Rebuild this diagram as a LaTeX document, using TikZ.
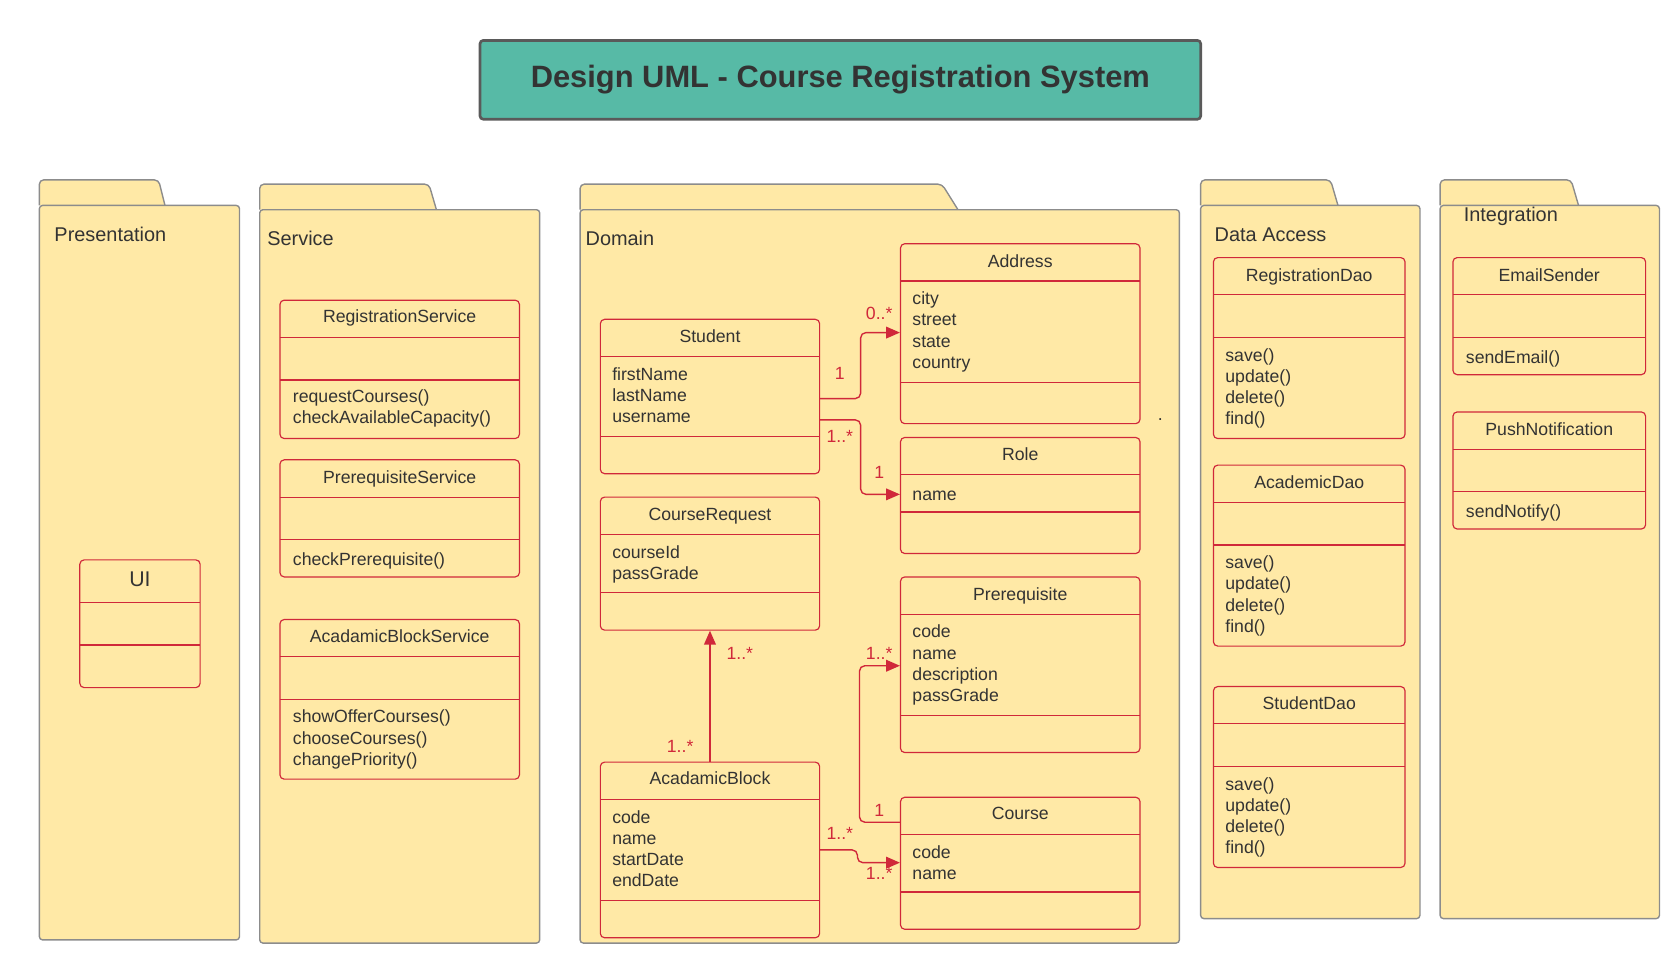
\documentclass[tikz,border=0pt]{standalone}
\usepackage{fontspec}
\setmainfont{Liberation Sans}
\usetikzlibrary{arrows.meta,fit,calc}
\definecolor{folderfill}{HTML}{FFE9A6}
\definecolor{foldline}{HTML}{8C8C8C}
\definecolor{umlred}{HTML}{D0283A}
\definecolor{txt}{HTML}{333333}
\definecolor{titlefill}{HTML}{57BAA6}
\definecolor{titleline}{HTML}{5A5A5A}
\tikzset{
 folderbody/.style={draw=foldline, fill=folderfill, line width=1.3pt, rounded corners=3pt, inner sep=0pt},
 foldertab/.style={draw=foldline, fill=folderfill, line width=1.3pt, rounded corners=4pt},
 foldlabel/.style={font=\fontsize{18.7}{22}\selectfont, text=txt, anchor=base west, inner sep=0pt},
 classbox/.style={draw=umlred, fill=folderfill, line width=1.1pt, rounded corners=4pt, inner sep=0pt},
 divider/.style={draw=umlred, line width=1.1pt},
 ctitle/.style={font=\fontsize{16.6}{20}\selectfont, text=txt, anchor=base, inner sep=0pt},
 members/.style={font=\fontsize{16.6}{20}\selectfont, text=txt, anchor=north west, inner sep=0pt, align=left, execute at begin node=\strut},
 mult/.style={font=\fontsize{16.6}{20}\selectfont, text=umlred, inner sep=0pt},
 conn/.style={draw=umlred, line width=1.3pt, rounded corners=5pt, -{Triangle[length=13pt,width=11pt]}},
 titlebox/.style={draw=titleline, fill=titlefill, line width=2.5pt, rounded corners=3pt, minimum width=677pt, minimum height=74pt, font=\fontsize{29}{34}\selectfont\bfseries, text=txt},
}
% name, x1, ytab, xtabtop, xtabbottom, ybody, x2, ybottom
\newcommand{\umlfolder}[8]{%
  \draw[foldertab] (#2,#6) -- (#2,#3) -- (#4,#3) -- (#5,#6);
  \node[folderbody, fit={(#2,#6) (#7,#8)}] (#1) {};
}
% name, x1, y1, x2, y2, title baseline, title, dividers
\newcommand{\umlclass}[8]{%
  \node[classbox, fit={(#2,#3) (#4,#5)}] (#1) {};
  \node[ctitle] (#1-name) at ({(#2+#4)/2},#6) {#7};
  \foreach \dv in {#8} {\draw[divider] (#2,\dv) -- (#4,\dv);}
}
\begin{document}
\begin{tikzpicture}[x=1pt,y=-1pt]
\useasboundingbox (0,0) rectangle (1568,905);

% title
\node[titlebox] (title) at (789.5,75) {Design UML - Course Registration System};

% folders
\umlfolder{presentation}{37}{169}{149}{155}{193}{225}{883}
\umlfolder{service}{244}{173}{403}{410}{197}{507}{886}
\umlfolder{domain}{545}{173}{885}{900}{197}{1108}{886}
\umlfolder{dataaccess}{1128}{169}{1250}{1257}{193}{1334}{863}
\umlfolder{integration}{1353}{169}{1476}{1483}{193}{1559}{863}

\node[foldlabel] (presentation-label) at (51,227) {Presentation};
\node[foldlabel] (service-label) at (251,231) {Service};
\node[foldlabel] (domain-label) at (550,231) {Domain};
\node[foldlabel] (dataaccess-label) at (1141,227) {Data Access};
\node[foldlabel] (integration-label) at (1375,208) {Integration};

% presentation
\node[classbox, fit={(75,526) (188,646)}] (UI) {};
\node[ctitle, font=\fontsize{20}{24}\selectfont] (UI-name) at (131.5,551) {UI};
\draw[divider] (75,566) -- (188,566);
\draw[divider] (75,606) -- (188,606);

% service
\umlclass{RegService}{263}{282}{488}{412}{303}{RegistrationService}{317,357}
\node[members] (RegService-ops) at (275,366) {requestCourses()\\checkAvailableCapacity()};
\umlclass{PreService}{263}{432}{488}{542}{454}{PrerequisiteService}{467,507}
\node[members] (PreService-ops) at (275,517) {checkPrerequisite()};
\umlclass{ABService}{263}{582}{488}{732}{604}{AcadamicBlockService}{617,657}
\node[members] (ABService-ops) at (275,667) {showOfferCourses()\\chooseCourses()\\changePriority()};

% domain
\umlclass{Student}{564}{300}{770}{445}{322}{Student}{335,410}
\node[members] (Student-attr) at (575,345) {firstName\\lastName\\username};
\umlclass{CourseRequest}{564}{467}{770}{592}{489}{CourseRequest}{502,557}
\node[members] (CourseRequest-attr) at (575,512) {courseId\\passGrade};
\umlclass{AcadamicBlock}{564}{716}{770}{881}{737}{AcadamicBlock}{751,846}
\node[members] (AcadamicBlock-attr) at (575,761) {code\\name\\startDate\\endDate};
\umlclass{Address}{846}{229}{1071}{398}{251}{Address}{264,359}
\node[members] (Address-attr) at (857,274) {city\\street\\state\\country};
\umlclass{Role}{846}{411}{1071}{520}{433}{Role}{446,481}
\node[members] (Role-attr) at (857,456) {name};
\umlclass{Prerequisite}{846}{542}{1071}{707}{564}{Prerequisite}{577,672}
\node[members] (Prerequisite-attr) at (857,587) {code\\name\\description\\passGrade};
\umlclass{Course}{846}{749}{1071}{873}{770}{Course}{784,838}
\node[members] (Course-attr) at (857,794) {code\\name};
\node[text=txt, inner sep=0pt, font=\fontsize{16.6}{20}\selectfont] (dot) at (1090,394) {.};

% data access
\umlclass{RegDao}{1140}{242}{1320}{412}{264}{RegistrationDao}{277,317}
\node[members] (RegDao-ops) at (1151,327) {save()\\update()\\delete()\\find()};
\umlclass{AcadDao}{1140}{437}{1320}{607}{459}{AcademicDao}{472,512}
\node[members] (AcadDao-ops) at (1151,522) {save()\\update()\\delete()\\find()};
\umlclass{StudDao}{1140}{645}{1320}{815}{667}{StudentDao}{680,720}
\node[members] (StudDao-ops) at (1151,730) {save()\\update()\\delete()\\find()};

% integration
\umlclass{Email}{1365}{242}{1546}{352}{264}{EmailSender}{277,317}
\node[members] (Email-ops) at (1377,327) {sendEmail()};
\umlclass{Push}{1365}{387}{1546}{497}{409}{PushNotification}{422,462}
\node[members] (Push-ops) at (1377,472) {sendNotify()};

% connectors
\draw[conn] ([yshift=-75pt]Student.north east) -- ++(38,0) |- ([yshift=-84pt]Address.north west);
\draw[conn] ([yshift=-95pt]Student.north east) -- ++(38,0) |- ([yshift=-54pt]Role.north west);
\draw[conn] (AcadamicBlock.north) -- (CourseRequest.south);
\draw[conn] ([yshift=-24pt]Course.north west) -- ++(-38,0) |- ([yshift=-84pt]Prerequisite.north west);
\draw[conn] ([yshift=-83pt]AcadamicBlock.north east) -- ++(35,0) |- ([yshift=-62pt]Course.north west);

% multiplicities
\node[mult] (m-addr) at (826,294) {0..*};
\node[mult] (m-stud1) at (789,351) {1};
\node[mult] (m-stud2) at (789,410) {1..*};
\node[mult] (m-role) at (826,444) {1};
\node[mult] (m-creq) at (695,614) {1..*};
\node[mult] (m-ab1) at (639,701) {1..*};
\node[mult] (m-prereq) at (826,614) {1..*};
\node[mult] (m-course1) at (826,761) {1};
\node[mult] (m-ab2) at (789,783) {1..*};
\node[mult] (m-course2) at (826,821) {1..*};
\end{tikzpicture}
\end{document}
